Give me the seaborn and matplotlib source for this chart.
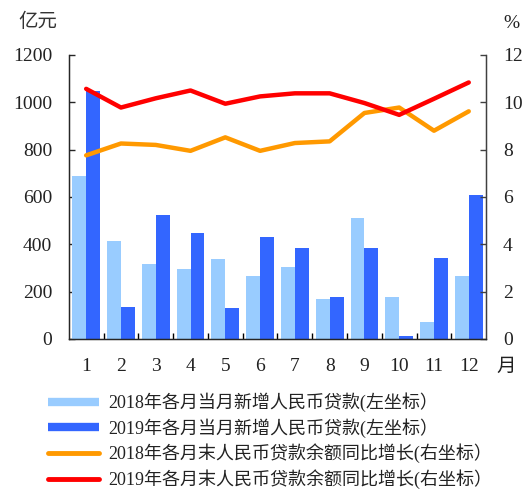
import numpy as np
import pandas as pd
import seaborn as sns
import matplotlib.pyplot as plt
from matplotlib.lines import Line2D
from matplotlib.ticker import FixedLocator

# data
months = ["1", "2", "3", "4", "5", "6", "7", "8", "9", "10", "11", "12"]
loans_2018 = [690, 414, 315, 294, 338, 267, 305, 170, 511, 176, 72, 267]
loans_2019 = [1046, 136, 522, 446, 132, 431, 386, 176, 386, 13, 342, 608]
growth_2018 = [7.76, 8.26, 8.2, 7.95, 8.52, 7.95, 8.28, 8.35, 9.55, 9.78, 8.8, 9.62]
growth_2019 = [10.57, 9.78, 10.17, 10.5, 9.94, 10.25, 10.38, 10.38, 9.97, 9.47, 10.15, 10.84]

labels = ["2018年各月当月新增人民币贷款(左坐标）",
          "2019年各月当月新增人民币贷款(左坐标）",
          "2018年各月末人民币贷款余额同比增长(右坐标）",
          "2019年各月末人民币贷款余额同比增长(右坐标）"]
colors = ["#99CCFF", "#3366FF", "#FF9900", "#FF0000"]

sns.set_style("ticks")
plt.rcParams['font.family'] = ['Liberation Serif', 'Noto Sans CJK SC', 'DejaVu Sans']

bars = pd.DataFrame({
    "month": months * 2,
    "value": loans_2018 + loans_2019,
    "series": [labels[0]] * 12 + [labels[1]] * 12,
})
lines = pd.DataFrame({
    "x": list(range(12)) * 2,
    "value": growth_2018 + growth_2019,
    "series": [labels[2]] * 12 + [labels[3]] * 12,
})

fig = plt.figure(figsize=(5.25, 4.91), dpi=100)
ax = fig.add_axes([0.131, 0.3096, 0.795, 0.5784])

sns.barplot(data=bars, x="month", y="value", hue="series", order=months,
            palette={labels[0]: colors[0], labels[1]: colors[1]},
            width=0.8, saturation=1, legend=False, ax=ax, linewidth=0)

ax2 = ax.twinx()
sns.lineplot(data=lines, x="x", y="value", hue="series",
             palette={labels[2]: colors[2], labels[3]: colors[3]},
             linewidth=3.2, legend=False, ax=ax2, solid_capstyle="round")

ax.set_xlim(-0.5, 11.5)
ax.set_ylim(0, 1200)
ax2.set_ylim(0, 12)
ax.set_yticks(range(0, 1201, 200))
ax2.set_yticks(range(0, 13, 2))
ax.set_xlabel("")
ax.set_ylabel("")
ax2.set_xlabel("")
ax2.set_ylabel("")

ax.spines["top"].set_visible(False)
ax2.spines["top"].set_visible(False)
ax.spines["left"].set_color("black")
ax2.spines["right"].set_color("#404040")
for s in ["left", "right", "bottom"]:
    ax2.spines[s].set_linewidth(1.0)

ax.xaxis.set_minor_locator(FixedLocator(np.arange(0.5, 11, 1.0)))
ax.tick_params(axis="x", which="major", length=0, pad=14, labelsize=14, labelcolor="#222222")
ax.tick_params(axis="x", which="minor", direction="in", length=4.5, width=1, color="black")
ax.tick_params(axis="y", direction="in", length=4.5, width=1, pad=12, labelsize=14, labelcolor="#222222")
ax2.tick_params(axis="y", direction="in", length=4.5, width=1, pad=12, labelsize=14,
                labelcolor="#222222", color="#404040")

fig.text(0.072, 0.955, "亿元", fontsize=14, ha="center", va="center", color="#333333")
fig.text(0.975, 0.952, "%", fontsize=14, ha="center", va="center", color="#222222")
fig.text(0.965, 0.252, "月", fontsize=14, ha="center", va="center", color="#222222")

handles = [Line2D([], [], color=colors[0], lw=6, solid_capstyle="butt"),
           Line2D([], [], color=colors[1], lw=6, solid_capstyle="butt"),
           Line2D([], [], color=colors[2], lw=3.5, solid_capstyle="round"),
           Line2D([], [], color=colors[3], lw=3.5, solid_capstyle="round")]
fig.legend(handles, labels, loc="upper left", bbox_to_anchor=(0.092, 0.201),
           frameon=False, fontsize=13, handlelength=2.8, handletextpad=0.5,
           labelspacing=0.33, borderaxespad=0, borderpad=0, labelcolor="#222222")

fig.savefig("out.png", dpi=100)
